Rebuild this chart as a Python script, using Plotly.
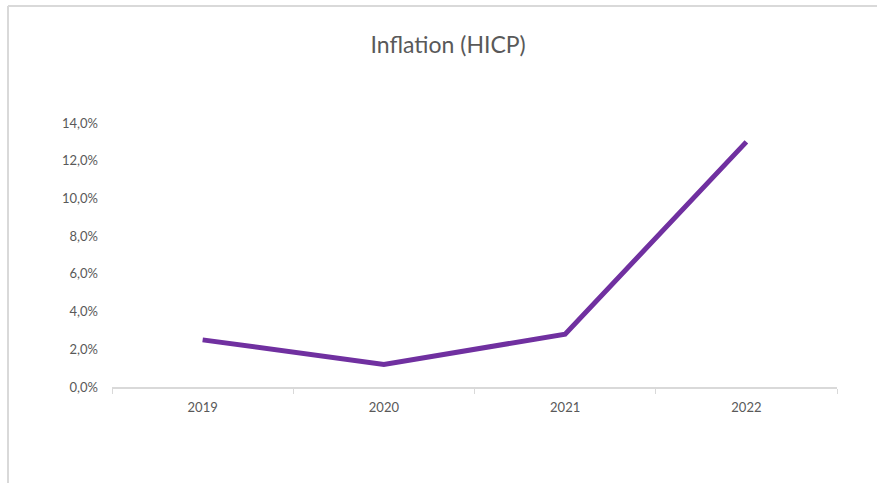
import plotly.graph_objects as go

# Annual HICP inflation, percent
years = ["2019", "2020", "2021", "2022"]
inflation = [2.5, 1.2, 2.8, 13.0]
y_ticks = [0, 2, 4, 6, 8, 10, 12, 14]
y_tick_text = [f"{v:.1f}".replace(".", ",") + "%" for v in y_ticks]

W, H = 877, 483
M_L, M_R, M_T, M_B = 112, 40, 123, 96

fig = go.Figure(
    go.Scatter(
        x=years,
        y=inflation,
        mode="lines",
        line=dict(color="#7030A0", width=5),
        hoverinfo="skip",
    )
)

# chart-area frame (light grey left and top edges)
pw = W - M_L - M_R
ph = H - M_T - M_B
def px_to_paper_x(px):
    return (px - M_L) / pw
def px_to_paper_y(py):
    return (H - M_B - py) / ph

frame = dict(color="#D9D9D9", width=2)
fig.add_shape(type="line", xref="paper", yref="paper",
              x0=px_to_paper_x(8), x1=px_to_paper_x(8),
              y0=px_to_paper_y(6), y1=px_to_paper_y(H + 5), line=frame)
fig.add_shape(type="line", xref="paper", yref="paper",
              x0=px_to_paper_x(8), x1=px_to_paper_x(W + 5),
              y0=px_to_paper_y(6), y1=px_to_paper_y(6), line=frame)

fig.update_layout(
    width=W,
    height=H,
    margin=dict(l=M_L, r=M_R, t=M_T, b=M_B),
    paper_bgcolor="white",
    plot_bgcolor="white",
    showlegend=False,
    font=dict(family="Lato, 'Open Sans', sans-serif", color="#595959", size=13),
    title=dict(
        text="Inflation (HICP)",
        x=0.511,
        xanchor="center",
        y=1 - 45 / H,
        yanchor="middle",
        yref="container",
        font=dict(size=23, color="#595959"),
    ),
    xaxis=dict(
        type="category",
        range=[-0.5, 3.5],
        tickson="boundaries",
        ticks="outside",
        ticklen=5,
        tickcolor="#D9D9D9",
        showline=True,
        linecolor="#D9D9D9",
        linewidth=2,
        showgrid=False,
        zeroline=False,
        ticklabelstandoff=7,
        fixedrange=True,
    ),
    yaxis=dict(
        range=[0, 14],
        tickvals=y_ticks,
        ticktext=y_tick_text,
        showgrid=False,
        zeroline=False,
        showline=False,
        ticks="",
        ticklabelstandoff=13,
        fixedrange=True,
    ),
)

fig.write_html("out.html", config={"displayModeBar": False})
